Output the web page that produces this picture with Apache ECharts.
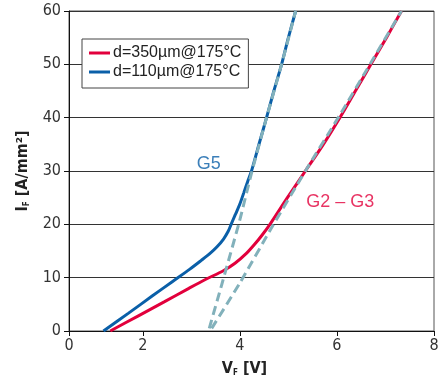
<!DOCTYPE html>
<html>
<head>
<meta charset="utf-8">
<script src="https://cdn.jsdelivr.net/npm/echarts@6/dist/echarts.min.js"></script>
<style>
  html, body { margin: 0; padding: 0; background: #fff; }
  #chart { width: 448px; height: 383px; }
</style>
</head>
<body>
<div id="chart"></div>
<script>
// the "0" tick of the original x axis sits closer to 2 than the other ticks,
// so the axis starts a bit above zero and that tick is labelled 0
const X_ZERO = 0.48
const xTickValues = [X_ZERO, 2, 4, 6, 8]
const xTickLabels = ['0', '2', '4', '6', '8']

// d=350µm@175°C  (G2 - G3)
const redV = [1.33, 1.90, 2.45, 2.95, 3.30, 3.66, 3.90, 4.14, 4.30, 4.46, 4.62, 4.98, 5.35, 5.72, 6.06, 6.38, 6.70, 7.02, 7.33]
const redI = [0, 2.8, 5.5, 8.0, 9.7, 11.3, 12.7, 14.6, 16.2, 18.0, 20, 25, 30, 35, 40, 45, 50, 55, 60]

// d=110µm@175°C  (G5)
const blueV = [1.19, 1.70, 2.20, 2.60, 2.97, 3.20, 3.38, 3.53, 3.66, 3.76, 3.82, 3.91, 4.00, 4.08, 4.16, 4.24, 4.40, 4.55, 4.70, 4.86, 5.00, 5.15]
const blueI = [0, 3.3, 6.6, 9.2, 11.6, 13.2, 14.5, 15.8, 17.2, 18.7, 20, 21.9, 23.8, 25.9, 28.0, 30.0, 35.2, 40, 45, 50, 55, 60]

// dashed fit lines
const fitG5V = [3.37, 3.63, 3.99, 4.24, 4.55, 4.86, 5.15]
const fitG5I = [0.5, 8.8, 20.5, 29.6, 40, 50, 60]
const fitG23V = [3.42, 4.0, 4.65, 5.35, 6.06, 6.70, 7.33]
const fitG23I = [0.5, 9.0, 19.3, 30, 40.5, 50.3, 60]

const curveNames = ['d=350µm@175°C', 'd=110µm@175°C']
const tagTexts = ['G5', 'G2 – G3']
const tagV = [3.36, 6.07]
const tagI = [31.3, 24.2]

const RED = '#e2003c'
const BLUE = '#0a5fa8'
const FIT = '#82b1bb'
const FONT = "'Liberation Sans Narrow', 'DejaVu Sans Condensed', 'Liberation Sans', sans-serif"

const pairs = (xs, ys) => xs.map((x, i) => [x, ys[i]])

const chart = echarts.init(document.getElementById('chart'))

const axisNameRich = {
  b: { fontFamily: FONT, fontSize: 16, fontWeight: 'bold', color: '#222' },
  s: { fontFamily: FONT, fontSize: 8, fontWeight: 'bold', color: '#222', verticalAlign: 'bottom', padding: [7, 0, 0, 0] }
}

const option = {
  animation: false,
  textStyle: { fontFamily: FONT },
  grid: {
    left: 69,
    right: 14,
    top: 11,
    bottom: 52,
    show: true,
    borderColor: '#555',
    borderWidth: 1
  },
  legend: {
    orient: 'vertical',
    left: 82,
    top: 39,
    data: curveNames,
    backgroundColor: '#fff',
    borderColor: '#444',
    borderWidth: 1,
    padding: [6, 7, 8, 7],
    itemGap: 3,
    itemWidth: 21,
    itemHeight: 3,
    icon: 'rect',
    textStyle: { fontFamily: "'Liberation Sans', sans-serif", fontSize: 16, color: '#222', padding: [0, 0, 0, -2] }
  },
  xAxis: {
    type: 'value',
    min: X_ZERO,
    max: 8,
    name: '{b|V}{s|F}{b| [V]}',
    nameLocation: 'middle',
    nameGap: 30,
    nameTextStyle: { rich: axisNameRich, padding: [0, 14, 0, 0] },
    axisLine: { lineStyle: { color: '#111', width: 1 } },
    axisTick: { show: true, customValues: xTickValues, length: 5, lineStyle: { color: '#111' } },
    axisLabel: {
      customValues: xTickValues,
      formatter: v => xTickLabels[xTickValues.indexOf(v)],
      color: '#333',
      fontSize: 16,
      margin: 7
    },
    splitLine: { show: false }
  },
  yAxis: {
    type: 'value',
    min: 0,
    max: 60,
    interval: 10,
    name: '{b|I}{s|F}{b| [A/mm²]}',
    nameLocation: 'middle',
    nameRotate: 90,
    nameGap: 38,
    nameTextStyle: { rich: axisNameRich },
    axisLine: { show: true, lineStyle: { color: '#111', width: 1 } },
    axisTick: { show: true, length: 5, lineStyle: { color: '#111' } },
    axisLabel: { color: '#333', fontSize: 16, margin: 8 },
    splitLine: { lineStyle: { color: '#333', width: 1 } }
  },
  series: [
    {
      name: curveNames[0],
      type: 'line',
      data: pairs(redV, redI),
      smooth: 0.3,
      showSymbol: false,
      color: RED,
      lineStyle: { color: RED, width: 3 },
      z: 2
    },
    {
      name: curveNames[1],
      type: 'line',
      data: pairs(blueV, blueI),
      smooth: 0.3,
      showSymbol: false,
      color: BLUE,
      lineStyle: { color: BLUE, width: 3 },
      z: 2
    },
    {
      name: 'fit G5',
      type: 'line',
      data: pairs(fitG5V, fitG5I),
      smooth: 0.2,
      showSymbol: false,
      lineStyle: { color: FIT, width: 3, type: [9, 5] },
      z: 3
    },
    {
      name: 'fit G2-G3',
      type: 'line',
      data: pairs(fitG23V, fitG23I),
      smooth: 0.2,
      showSymbol: false,
      lineStyle: { color: FIT, width: 3, type: [9, 5] },
      z: 3
    },
    {
      name: 'tags',
      type: 'scatter',
      symbolSize: 0,
      data: tagTexts.map((t, i) => ({
        value: [tagV[i], tagI[i]],
        label: {
          show: true,
          position: 'inside',
          formatter: t,
          fontFamily: "'Liberation Sans', sans-serif",
          fontSize: 18,
          color: i === 0 ? BLUE : RED
        }
      })),
      z: 4
    }
  ]
}

chart.setOption(option)
</script>
</body>
</html>
